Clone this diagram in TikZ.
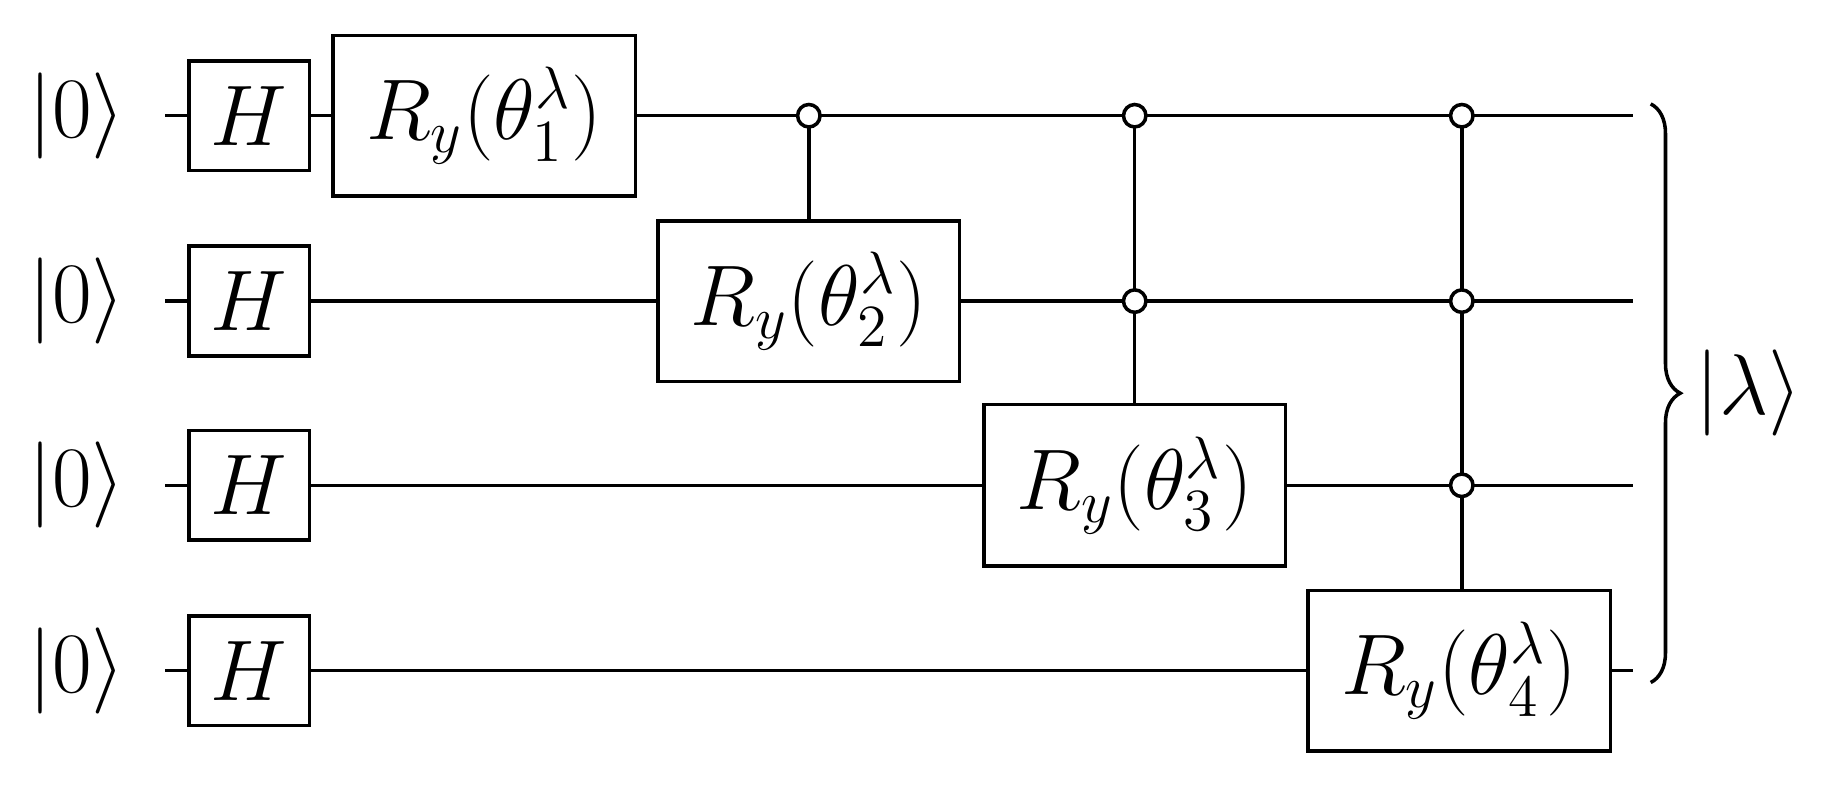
\documentclass[tikz,border=0pt]{standalone}
\usetikzlibrary{decorations.pathreplacing}
\begin{document}
\begin{tikzpicture}[x=0.01cm,y=-0.01cm,line width=0.85pt,
  gate/.style={draw,fill=white,inner sep=0pt,font=\fontsize{21}{25}\selectfont},
  ctrl/.style={circle,draw,fill=white,inner sep=0pt,minimum size=0.19cm},
  lab/.style={font=\fontsize{21}{25}\selectfont}]
\useasboundingbox (0,0) rectangle (1560,666);
\foreach \i/\y in {1/98,2/255,3/411,4/568}{
  \node[lab] (k\i) at (65,\y) {$\big|0\big\rangle$};
  \coordinate (s\i) at (140,\y);
  \coordinate (e\i) at (1383,\y);
}
\foreach \i in {1,2,3,4} \draw (s\i) -- (e\i);
\foreach \i/\y in {1/98,2/255,3/411,4/568}
  \node[gate,minimum width=1.02cm,minimum height=0.93cm] (h\i) at (211,\y) {$H$};
\node[gate,minimum width=2.56cm,minimum height=1.36cm] (r1) at (410,98) {$R_y(\theta_1^\lambda)$};
\node[gate,minimum width=2.55cm,minimum height=1.36cm] (r2) at (685,255) {$R_y(\theta_2^\lambda)$};
\node[gate,minimum width=2.55cm,minimum height=1.37cm] (r3) at (961,411) {$R_y(\theta_3^\lambda)$};
\node[gate,minimum width=2.56cm,minimum height=1.36cm] (r4) at (1236,568) {$R_y(\theta_4^\lambda)$};
\coordinate (c1) at (685,98);
\coordinate (c21) at (961,98);
\coordinate (c22) at (961,255);
\coordinate (c31) at (1238,98);
\coordinate (c32) at (1238,255);
\coordinate (c33) at (1238,411);
\draw (c1) -- (r2.north);
\draw (c21) -- (r3.north);
\draw (c31) -- (c31 |- r4.north);
\node[ctrl] at (c1) {};
\node[ctrl] at (c21) {};
\node[ctrl] at (c22) {};
\node[ctrl] at (c31) {};
\node[ctrl] at (c32) {};
\node[ctrl] at (c33) {};
\coordinate (b1) at (1398,88);
\coordinate (b2) at (1398,578);
\draw[decorate,decoration={brace,amplitude=0.25cm}] (b1) -- (b2) node[midway,right=0.25cm,lab] (lam) {$\big|\lambda\big\rangle$};
\end{tikzpicture}
\end{document}
